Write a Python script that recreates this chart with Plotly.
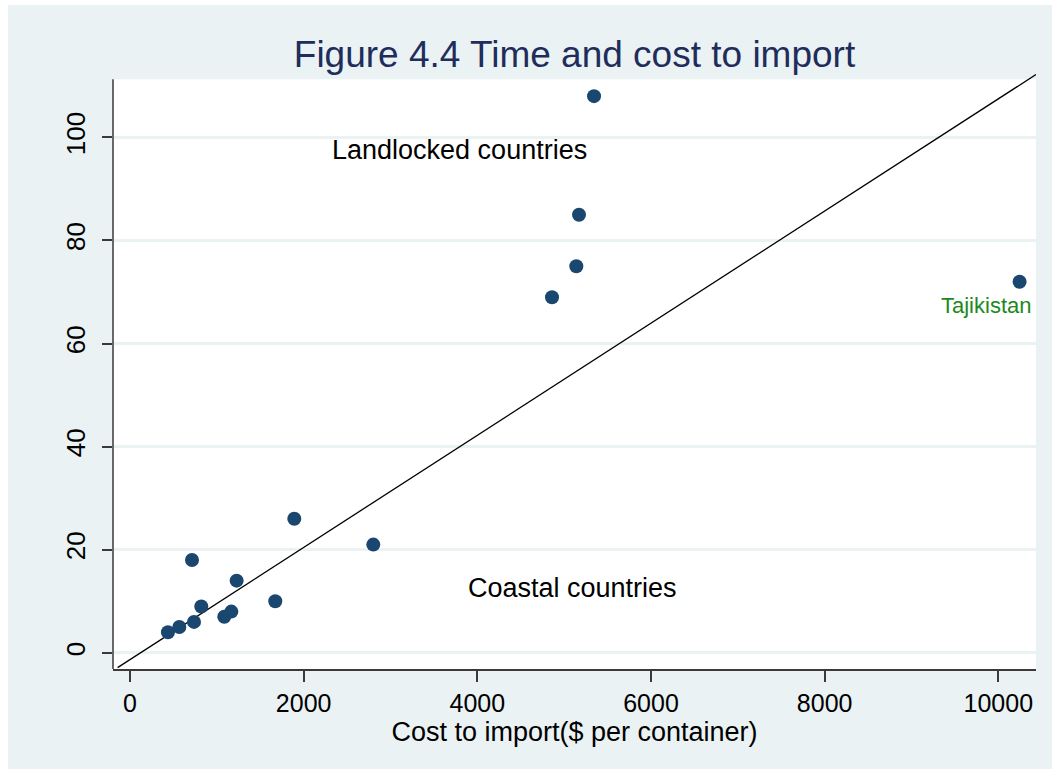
import plotly.graph_objects as go

# Cost to import ($ per container) and time to import (days)
cost = [437, 568, 737, 714, 821, 1086, 1167, 1228, 1673, 1892, 2802,
        4860, 5140, 5171, 5344, 10245]
days = [4, 5, 6, 18, 9, 7, 8, 14, 10, 26, 21, 69, 75, 85, 108, 72]

# Dividing line between the two groups
diag_x = [-143, 10434]
diag_y = [-2.87, 112.2]

x_ticks = [0, 2000, 4000, 6000, 8000, 10000]
x_tick_text = ["0", "2000", "4000", "6000", "8000", "10000"]
y_ticks = [0, 20, 40, 60, 80, 100]
y_tick_text = ["0", "20", "40", "60", "80", "100"]

x_range = [-195.8, 10434]
y_range = [-3.14, 112.3]
y_plot_top = 111.3

BG = "#EAF2F3"
NAVY = "#1a476f"
FONT = "Liberation Sans, Arial, sans-serif"

W, H = 1052, 769
M = dict(l=113, r=16, t=74, b=100)
pw = W - M["l"] - M["r"]
ph = H - M["t"] - M["b"]

fig = go.Figure()

fig.add_trace(go.Scatter(
    x=diag_x, y=diag_y, mode="lines",
    line=dict(color="black", width=1.3),
    hoverinfo="skip", showlegend=False,
))

fig.add_trace(go.Scatter(
    x=cost, y=days, mode="markers",
    marker=dict(color=NAVY, size=14, line=dict(width=0)),
    showlegend=False, cliponaxis=False,
))

shapes = [
    # white plotting region
    dict(type="rect", xref="paper", yref="y", x0=0, x1=1,
         y0=y_range[0], y1=y_plot_top, fillcolor="white",
         line=dict(width=0), layer="below"),
    # left axis line, stopping at the top of the plotting region
    dict(type="line", xref="paper", yref="y", x0=0, x1=0,
         y0=y_range[0], y1=y_plot_top,
         line=dict(color="#3a3a3a", width=1.5)),
    # thin white border at the left and top of the page
    dict(type="rect", xref="paper", yref="paper",
         x0=-M["l"] / pw, x1=(-M["l"] + 8) / pw,
         y0=-M["b"] / ph, y1=(ph + M["t"]) / ph,
         fillcolor="white", line=dict(width=0), layer="below"),
    dict(type="rect", xref="paper", yref="paper",
         x0=-M["l"] / pw, x1=(pw + M["r"]) / pw,
         y0=(ph + M["t"] - 5) / ph, y1=(ph + M["t"]) / ph,
         fillcolor="white", line=dict(width=0), layer="below"),
]

annotations = [
    dict(x=3800, y=97.5, text="Landlocked countries", showarrow=False,
         font=dict(family=FONT, size=27, color="black"),
         xanchor="center", yanchor="middle"),
    dict(x=5100, y=12.6, text="Coastal countries", showarrow=False,
         font=dict(family=FONT, size=27, color="black"),
         xanchor="center", yanchor="middle"),
    dict(x=cost[-1], y=days[-1], text="Tajikistan", showarrow=False,
         font=dict(family=FONT, size=22, color="#1b8a1b"),
         xanchor="right", yanchor="middle", xshift=13, yshift=-24),
]

fig.update_layout(
    width=W, height=H, margin=M,
    paper_bgcolor=BG, plot_bgcolor=BG,
    title=dict(text="Figure 4.4 Time and cost to import",
               font=dict(family=FONT, size=37, color="#1f2d5c"),
               x=0.5, xref="paper", xanchor="center",
               y=1 - 54 / H, yref="container", yanchor="middle"),
    xaxis=dict(range=x_range, tickvals=x_ticks, ticktext=x_tick_text,
               showgrid=False, zeroline=False,
               showline=True, linecolor="#3a3a3a", linewidth=1.5,
               ticks="outside", ticklen=11, tickwidth=1.5, tickcolor="#3a3a3a",
               tickfont=dict(family=FONT, size=25, color="black"),
               title=dict(text="Cost to import($ per container)",
                          font=dict(family=FONT, size=27, color="black"),
                          standoff=0)),
    yaxis=dict(range=y_range, tickvals=y_ticks, ticktext=y_tick_text,
               showgrid=True,
               gridcolor=BG, gridwidth=2.5, zeroline=False, showline=False,
               ticks="outside", ticklen=10, tickwidth=1.5, tickcolor="#3a3a3a",
               tickangle=-90, ticklabelstandoff=7,
               tickfont=dict(family=FONT, size=26, color="black")),
    shapes=shapes,
    annotations=annotations,
)

fig.write_html("out.html")
